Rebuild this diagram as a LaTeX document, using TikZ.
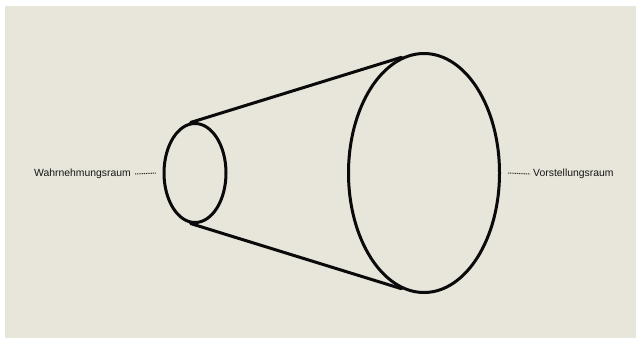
\documentclass[tikz,border=0pt]{standalone}
\usepackage{fontspec}
\setmainfont{Liberation Sans}
\usetikzlibrary{shapes.geometric}
\definecolor{bg}{RGB}{232,229,219}
\definecolor{ink}{RGB}{10,10,10}
\tikzset{
  ring/.style={draw=ink, line width=3pt, ellipse, inner sep=0pt},
  cone/.style={draw=ink, line width=3pt, line cap=round},
  lbl/.style={font=\fontsize{10.4}{12}\selectfont, text=ink!95, inner sep=0pt},
  leader/.style={draw=ink!85, line width=1pt, dash pattern=on 1pt off 0.8pt}
}
\begin{document}
\begin{tikzpicture}[x=1pt,y=-1pt]
\useasboundingbox (0,0) rectangle (636,338);
\fill[white] (0,0) rectangle (636,338);
\fill[bg] (5,6) rectangle (636,338);
\node[ring, minimum width=62pt, minimum height=99pt] (small) at (195,173) {};
\node[ring, minimum width=151pt, minimum height=239pt] (big) at (424,173) {};
\draw[cone] (small.95.7) -- (big.101.6);
\draw[cone] (small.-95.7) -- (big.-101.6);
\node[lbl, anchor=east] (wl) at (131,174) {Wahrnehmungsraum};
\node[lbl, anchor=west] (vl) at (533,174) {Vorstellungsraum};
\draw[leader] ([xshift=4pt]wl.east) -- ([xshift=-6pt]small.west);
\draw[leader] ([xshift=7pt]big.east) -- ([xshift=-3pt]vl.west);
\end{tikzpicture}
\end{document}
